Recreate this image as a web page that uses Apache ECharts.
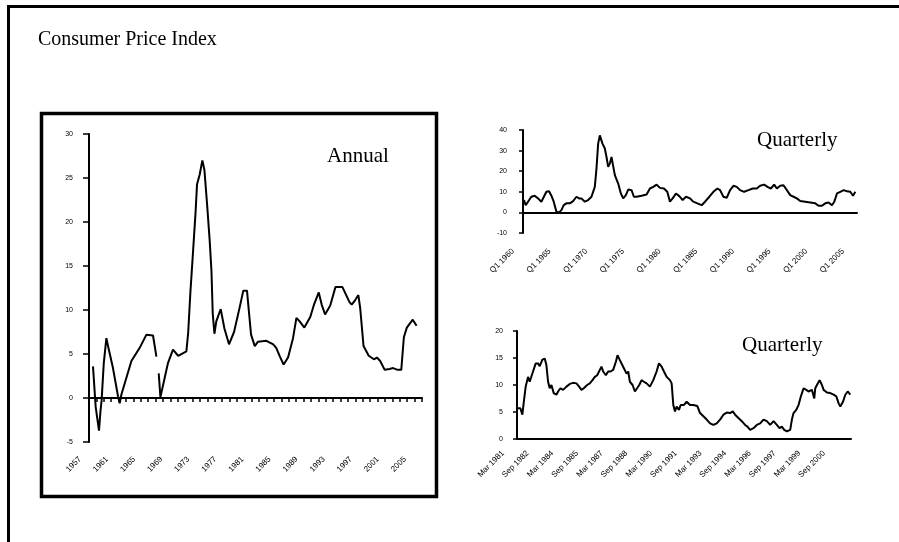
<!DOCTYPE html>
<html>
<head>
<meta charset="utf-8">
<script src="https://cdn.jsdelivr.net/npm/echarts@6/dist/echarts.min.js"></script>
<style>
html,body{margin:0;padding:0;background:#fff;}
#c{width:899px;height:542px;}
</style>
</head>
<body>
<div id="c"></div>
<script>
// ---------- DATA ----------
// Annual rate (%), x = position in axis periods (0..45); null marks the break in the series
const annualRate = [
  [0.54, 3.6], [0.9, -1.0], [1.35, -3.7], [1.55, -1.5], [1.7, -0.3], [2.0, 4.0], [2.35, 6.8],
  [2.6, 5.8], [3.24, 3.4], [3.92, 0.2], [4.15, -0.6], [4.38, 0.4], [5.73, 4.2], [6.85, 5.7],
  [7.76, 7.2], [8.65, 7.1], [9.11, 4.7],
  null,
  [9.42, 2.8], [9.65, 0.1], [10.23, 2.3], [10.68, 4.0], [11.35, 5.5], [12.05, 4.8], [13.16, 5.3],
  [13.4, 7.4], [13.7, 12.0], [14.05, 16.5], [14.4, 21.1], [14.6, 24.3], [14.96, 25.4], [15.32, 27.0],
  [15.6, 25.9], [15.95, 22.1], [16.3, 18.0], [16.55, 14.4], [16.72, 9.6], [16.95, 7.3], [17.2, 8.7],
  [17.8, 10.1], [18.3, 7.9], [18.92, 6.1], [19.6, 7.5], [20.36, 10.3], [20.85, 12.2], [21.35, 12.2],
  [21.6, 9.9], [21.9, 7.2], [22.4, 5.9], [22.84, 6.4], [23.97, 6.5], [24.9, 6.1], [25.3, 5.7],
  [25.8, 4.7], [26.3, 3.8], [26.9, 4.6], [27.57, 6.8], [28.03, 9.1], [28.47, 8.7], [29.1, 8.0],
  [29.9, 9.2], [30.4, 10.6], [31.05, 12.0], [31.45, 10.6], [31.9, 9.5], [32.6, 10.5], [33.3, 12.6],
  [34.25, 12.6], [35.2, 10.9], [35.5, 10.6], [35.95, 11.1], [36.4, 11.7], [36.65, 10.2], [37.1, 5.9],
  [37.8, 4.8], [38.5, 4.4], [38.9, 4.6], [39.35, 4.2], [39.96, 3.2], [40.6, 3.3], [41.1, 3.4],
  [41.7, 3.2], [42.2, 3.2], [42.55, 6.9], [42.95, 8.0], [43.75, 8.9], [44.27, 8.2]
];
const annualLabels = ['1957','1961','1965','1969','1973','1977','1981','1985','1989','1993','1997','2001','2005'];
const annualTicks = [-5, 30, 5]; // min, max, step

// Quarterly (top), x = quarter index 0..200
const quarterlyTop = [
  [0.6, 6.0], [1.6, 3.5], [3, 5.2], [5, 7.6], [7, 8.1], [9, 6.8], [11, 5.2], [14, 10.0], [15.6, 10.3],
  [17, 8.1], [18.4, 5.2], [20, 0.3], [21.6, 0], [23, 1.1], [24.4, 3.5], [26, 4.4], [28, 4.4], [30, 5.5],
  [32, 7.6], [33.6, 6.8], [35, 6.8], [37, 5.2], [39, 6.0], [41, 7.6], [43, 12.4], [44, 21.3], [45, 33.4],
  [46, 37.4], [47.6, 33.4], [49, 31.0], [50, 26.9], [51, 22.1], [52, 23.7], [53, 26.9], [54, 27.7],
  [55, 18.1], [57, 14.0], [58.6, 9.2], [60, 6.8], [61.6, 8.4], [63, 11.1], [65, 10.8], [66.4, 7.6],
  [68, 7.6], [71, 8.1], [74, 8.7], [76, 11.6], [78, 12.4], [80, 13.5], [82, 11.9], [84.4, 11.6],
  [86.4, 10.0], [88, 5.2], [89.6, 6.8], [91.6, 9.2], [93.6, 7.9], [95.6, 6.0], [97.6, 7.6], [100, 6.8],
  [102, 5.2], [104.4, 4.4], [107, 3.5], [109, 5.2], [111.6, 7.6], [114, 10.0], [116.4, 11.6], [118, 10.8],
  [120, 7.6], [122, 7.1], [124, 10.8], [126, 12.9], [128, 12.4], [130, 10.8], [132.4, 10.0], [135, 10.8],
  [137.6, 11.6], [140, 11.6], [142, 12.9], [144.4, 13.5], [146.4, 12.4], [148.4, 11.6], [150.4, 13.5],
  [152, 11.6], [154, 12.9], [156, 13.2], [158, 10.8], [160, 8.4], [162, 7.6], [164, 6.8], [166, 5.5],
  [169, 5.2], [172, 4.8], [175, 4.4], [177, 3.2], [179, 3.2], [181, 4.4], [183, 4.8], [185, 3.5],
  [186.4, 5.2], [188, 9.2], [190, 10.0], [192, 10.8], [194, 10.3], [196, 10.0], [197.6, 8.1], [199, 10.0]
];
const quarterlyTopLabels = ['Q1 1960','Q1 1965','Q1 1970','Q1 1975','Q1 1980','Q1 1985','Q1 1990','Q1 1995','Q1 2000','Q1 2005'];

// Quarterly (bottom), x = quarter index 0..200
const quarterlyBottom = [
  [0.6, 5.7], [2, 5.7], [3.2, 4.5], [4.2, 7.2], [5.2, 9.7], [6.6, 11.5], [7.6, 10.6], [8.6, 10.9],
  [9.6, 12.5], [11.2, 14.0], [12.6, 14.0], [13.6, 13.5], [15.2, 14.7], [16.6, 14.9], [17.6, 13.7],
  [18.6, 10.6], [19.6, 9.4], [20.6, 10.0], [22, 8.5], [23.6, 8.2], [24.6, 8.8], [26, 9.4], [27.6, 9.1],
  [29.6, 9.7], [31.6, 10.2], [33.6, 10.4], [35.6, 10.3], [37.2, 9.7], [38.6, 9.1], [40, 9.4], [42, 10.0],
  [43.6, 10.3], [45.2, 10.9], [46.6, 11.5], [48, 11.8], [49.6, 12.8], [50.6, 13.4], [51.6, 12.5],
  [53.2, 11.8], [54.6, 12.5], [56, 12.5], [57.6, 12.8], [59.2, 14.3], [60.2, 15.5], [61.6, 14.6],
  [62.6, 14.6], [64, 13.1], [65.6, 12.1], [66.6, 12.5], [67.6, 10.6], [69.2, 10.0], [70.6, 8.8],
  [71.6, 9.1], [73.2, 10.0], [74.6, 10.9], [76, 10.6], [77.6, 10.3], [79.6, 9.7], [81.6, 10.9],
  [83.6, 12.5], [85, 14.0], [86.6, 13.4], [88, 12.5], [89.6, 11.5], [91.6, 10.9], [92.6, 10.3],
  [93.6, 6.3], [94.6, 5.1], [95.6, 6.0], [97, 5.4], [98, 6.3], [100, 6.3], [101.6, 6.9], [103.6, 6.3],
  [105.6, 6.3], [108, 6.1], [109.6, 4.8], [111.6, 4.2], [113.6, 3.6], [115.6, 2.9], [117.6, 2.6],
  [119.6, 2.9], [121.6, 3.6], [123.6, 4.5], [125.6, 4.9], [127.6, 4.8], [129.2, 5.1], [130.6, 4.5],
  [132.6, 3.9], [134.6, 3.3], [136.6, 2.6], [138, 2.3], [139.6, 1.7], [141.6, 2.0], [143.6, 2.6],
  [145.6, 2.9], [147.6, 3.6], [149.6, 3.3], [151.6, 2.6], [153.6, 3.3], [155.6, 2.6], [157.2, 2.0],
  [158.6, 2.3], [160, 1.7], [161.6, 1.4], [163.6, 1.7], [164.6, 3.6], [165.6, 4.8], [167.2, 5.4],
  [168.6, 6.3], [170, 7.9], [171.6, 9.4], [173.2, 9.1], [174.6, 8.8], [176.6, 9.1], [178, 7.5],
  [178.6, 9.4], [179.6, 10.0], [181.2, 10.9], [182.6, 10.0], [183.6, 9.1], [185.6, 8.6], [187.6, 8.5],
  [189.6, 8.2], [191.2, 7.9], [192.6, 6.6], [193.6, 6.0], [195.2, 6.9], [196.6, 8.2], [198, 8.8], [199.6, 8.2]
];
const quarterlyBottomLabels = ['Mar 1981','Sep 1982','Mar 1984','Sep 1985','Mar 1987','Sep 1988','Mar 1990',
  'Sep 1991','Mar 1993','Sep 1994','Mar 1996','Sep 1997','Mar 1999','Sep 2000'];

// ---------- CHART ----------
const BLACK = '#000';
const LABEL_FONT = 'Liberation Sans';
const SERIF = 'Liberation Serif';

function splitOnNull(arr) {
  const out = [[]];
  arr.forEach(p => { if (p === null) out.push([]); else out[out.length - 1].push(p); });
  return out;
}

function valueX(grid, max, ticks) {
  return {
    type: 'value', gridIndex: grid, min: 0, max: max, interval: 1,
    axisLine: { show: true, onZero: true, lineStyle: { color: BLACK, width: 2 } },
    axisTick: { show: ticks, length: 4, lineStyle: { color: BLACK, width: 1.5 } },
    axisLabel: { show: false }, splitLine: { show: false }
  };
}
function valueY(grid, min, max, step, tickLen, margin) {
  return {
    type: 'value', gridIndex: grid, min: min, max: max, interval: step,
    axisLine: { show: true, onZero: false, lineStyle: { color: BLACK, width: 2 } },
    axisTick: { show: true, length: tickLen, lineStyle: { color: BLACK, width: 1.5 } },
    axisLabel: { show: true, margin: margin, fontSize: 7, color: BLACK, fontFamily: LABEL_FONT },
    splitLine: { show: false }
  };
}
function labelX(grid, labels, margin, size) {
  return {
    type: 'category', gridIndex: grid, data: labels, boundaryGap: false,
    axisLine: { show: false, onZero: false }, axisTick: { show: false },
    axisLabel: { show: true, interval: 0, rotate: 45, margin: margin, fontSize: size,
      color: BLACK, fontFamily: LABEL_FONT },
    splitLine: { show: false }
  };
}
function hiddenY(grid) {
  return { type: 'value', gridIndex: grid, min: 0, max: 1, show: false };
}
function lineSeries(xi, yi, data) {
  return {
    type: 'line', xAxisIndex: xi, yAxisIndex: yi, data: data, symbol: 'none',
    lineStyle: { color: BLACK, width: 2 }, silent: true, animation: false
  };
}

const chart = echarts.init(document.getElementById('c'), null, { renderer: 'canvas' });

const series = [];
splitOnNull(annualRate).forEach(seg => series.push(lineSeries(0, 0, seg)));
series.push(lineSeries(2, 2, quarterlyTop));
series.push(lineSeries(4, 4, quarterlyBottom));

chart.setOption({
  animation: false,
  backgroundColor: '#fff',
  title: [
    { text: 'Consumer Price Index', left: 38, top: 30, padding: 0,
      textStyle: { fontFamily: SERIF, fontSize: 20, fontWeight: 'normal', color: BLACK } },
    { text: 'Annual', left: 327, top: 146, padding: 0,
      textStyle: { fontFamily: SERIF, fontSize: 21, fontWeight: 'normal', color: BLACK } },
    { text: 'Quarterly', left: 757, top: 130, padding: 0,
      textStyle: { fontFamily: SERIF, fontSize: 21, fontWeight: 'normal', color: BLACK } },
    { text: 'Quarterly', left: 742, top: 335, padding: 0,
      textStyle: { fontFamily: SERIF, fontSize: 21, fontWeight: 'normal', color: BLACK } }
  ],
  grid: [
    { left: 89, top: 134, width: 333, height: 308 },
    { left: 80, top: 134, width: 325, height: 308 },
    { left: 523, top: 130, width: 334, height: 103 },
    { left: 513, top: 130, width: 330, height: 103 },
    { left: 517, top: 331, width: 334, height: 108 },
    { left: 503, top: 331, width: 321, height: 108 }
  ],
  xAxis: [
    valueX(0, 45, true),
    labelX(1, annualLabels, 16, 8),
    valueX(2, 200, false),
    labelX(3, quarterlyTopLabels, 17, 8),
    valueX(4, 200, false),
    labelX(5, quarterlyBottomLabels, 13, 8)
  ],
  yAxis: [
    valueY(0, annualTicks[0], annualTicks[1], annualTicks[2], 6, 16),
    hiddenY(1),
    valueY(2, -10, 40, 10, 4, 16),
    hiddenY(3),
    valueY(4, 0, 20, 5, 4, 14),
    hiddenY(5)
  ],
  series: series,
  graphic: [
    { type: 'line', shape: { x1: 7, y1: 6.5, x2: 899, y2: 6.5 }, style: { stroke: BLACK, lineWidth: 3 }, silent: true },
    { type: 'line', shape: { x1: 8.5, y1: 5, x2: 8.5, y2: 542 }, style: { stroke: BLACK, lineWidth: 3 }, silent: true },
    { type: 'rect', shape: { x: 41.5, y: 113.5, width: 395, height: 383 },
      style: { fill: null, stroke: BLACK, lineWidth: 3.5 }, silent: true }
  ]
});
</script>
</body>
</html>
